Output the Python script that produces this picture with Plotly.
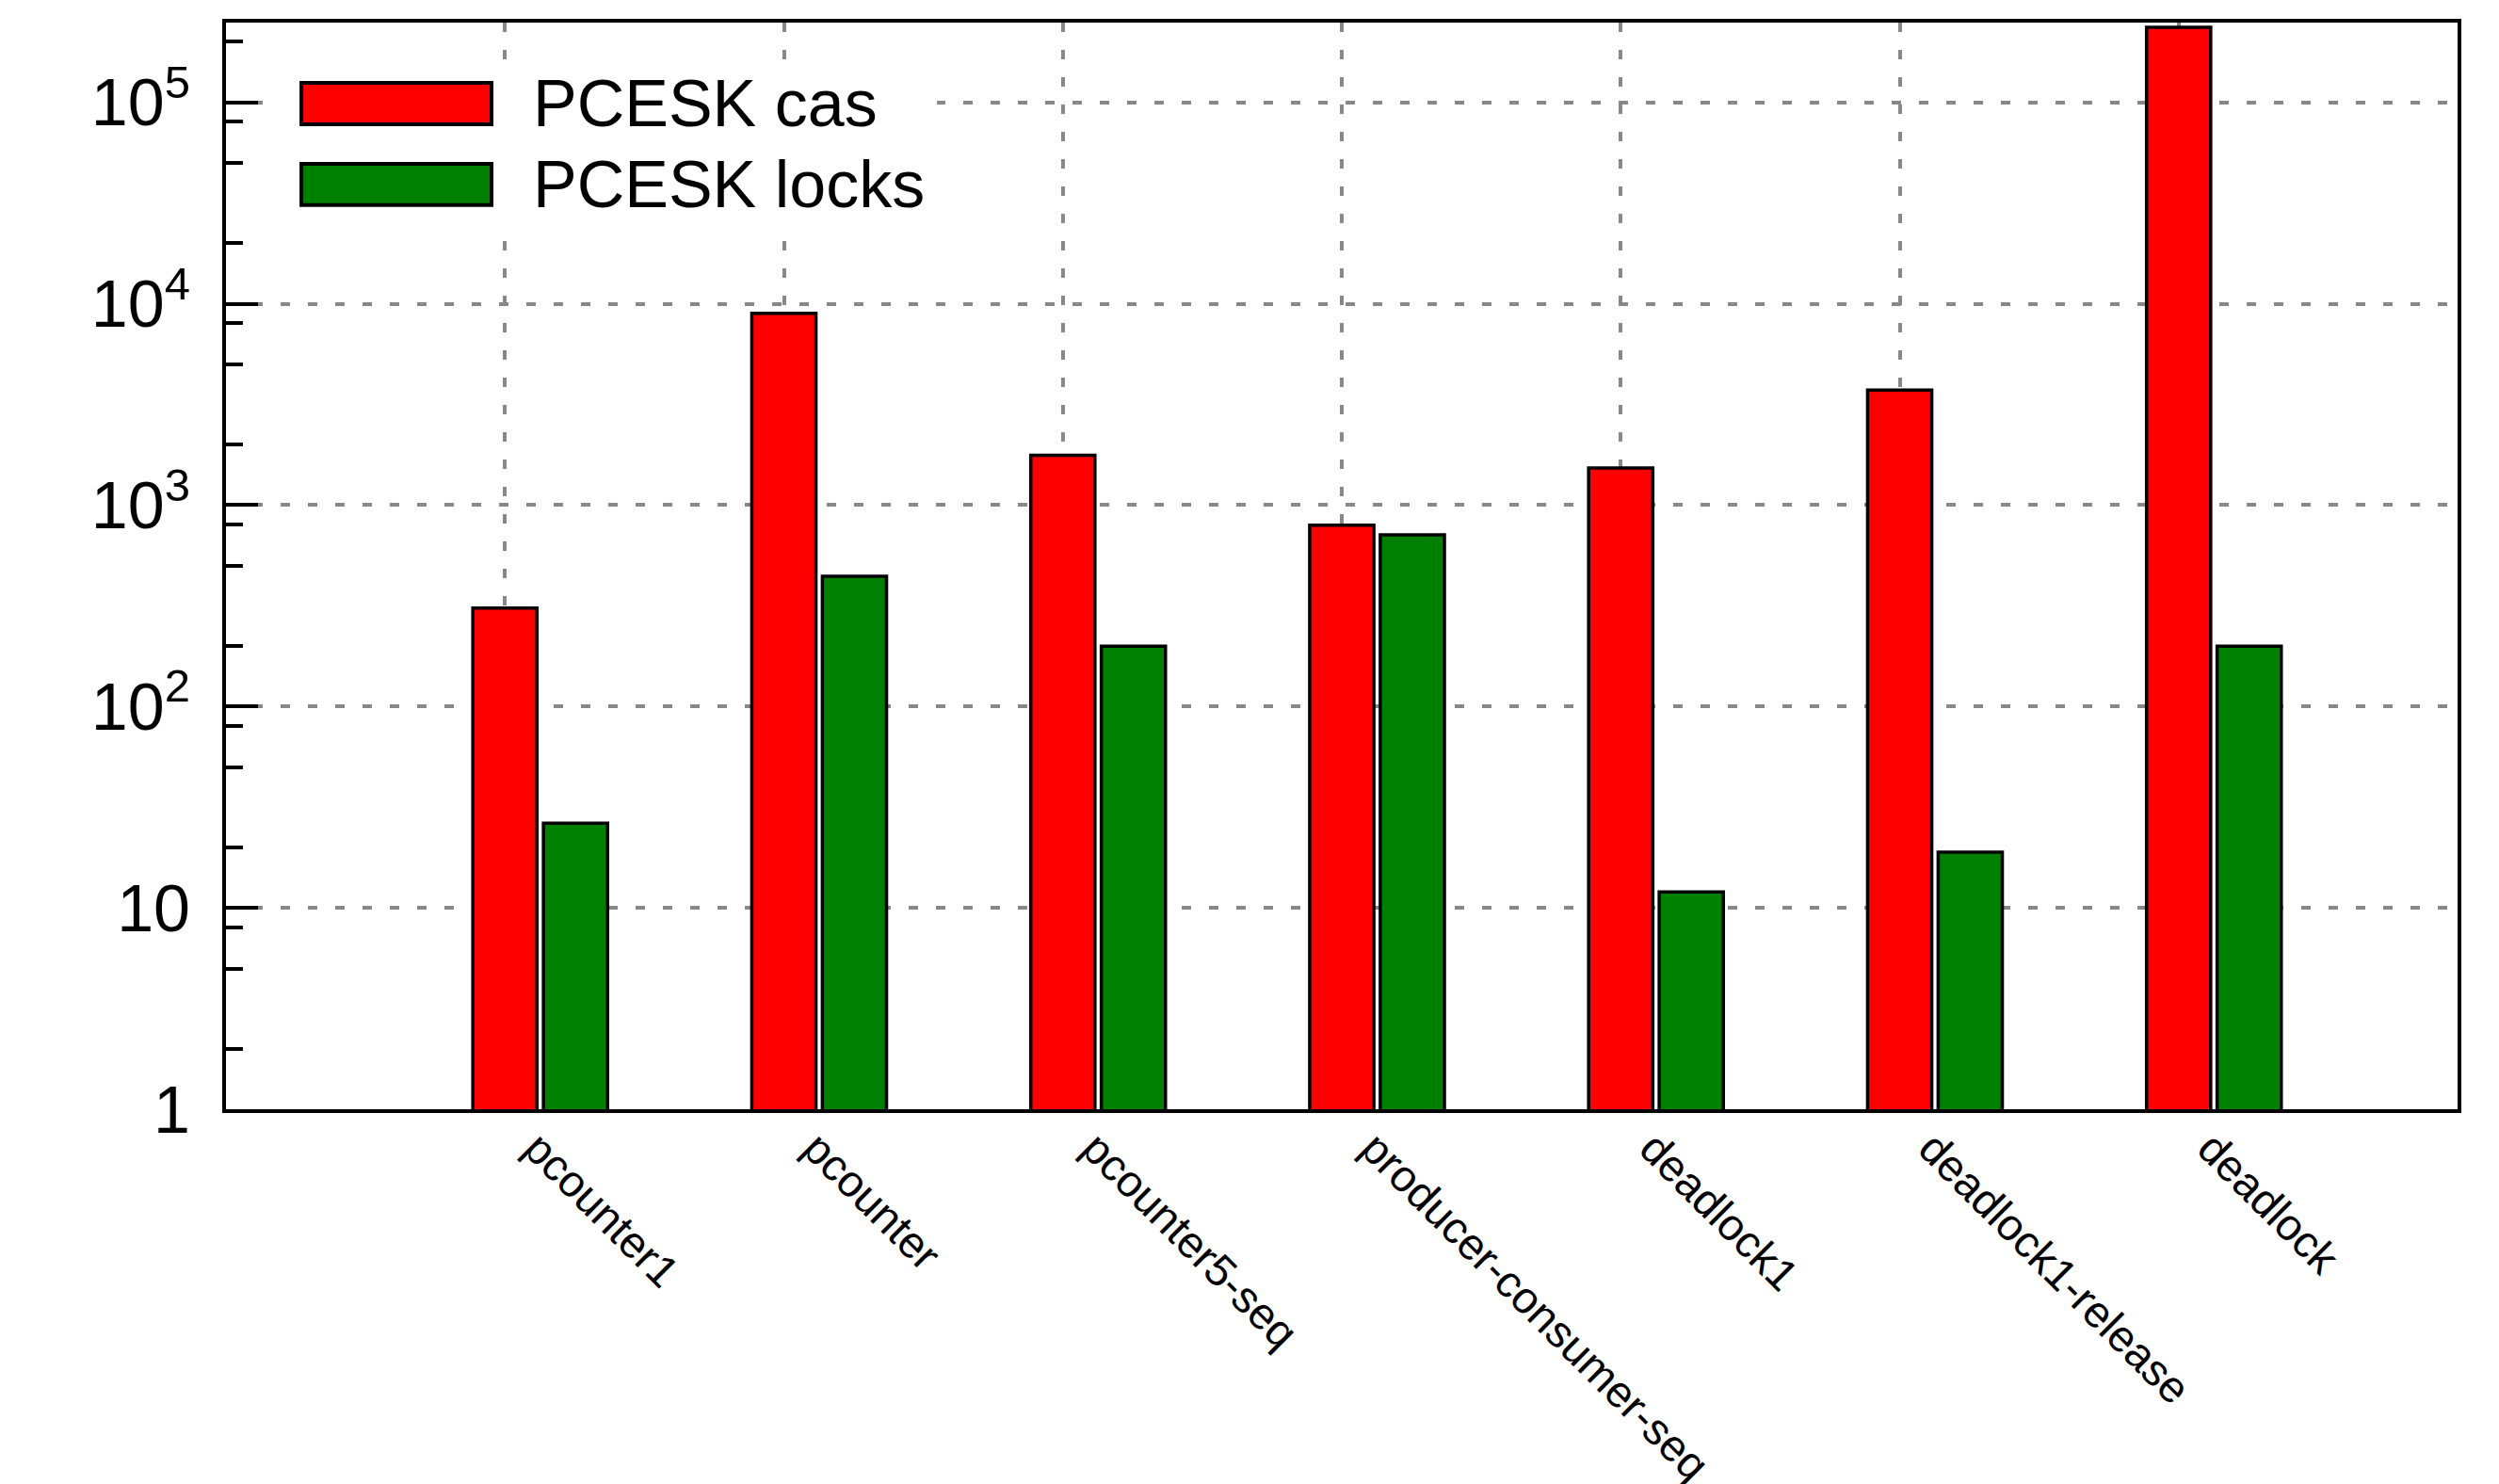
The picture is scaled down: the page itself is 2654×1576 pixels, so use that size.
import plotly.graph_objects as go

categories = ["pcounter1", "pcounter", "pcounter5-seq", "producer-consumer-seq",
              "deadlock1", "deadlock1-release", "deadlock"]
cas = [308, 8950, 1770, 794, 1530, 3730, 236000]
locks = [26.3, 443, 199, 711, 12.0, 18.9, 199]
series_names = ["PCESK cas", "PCESK locks"]
series_colors = ["#ff0000", "#008000"]
ytick_vals = [1, 10, 100, 1000, 10000, 100000]
ytick_text = ["1", "10", "10<sup>2</sup>", "10<sup>3</sup>", "10<sup>4</sup>", "10<sup>5</sup>"]
minor_vals = [m * 10 ** k for k in range(6) for m in (2, 5, 8)]

FONT = "Liberation Sans, Arial, sans-serif"
GRID = "#888888"
BAR_W = 0.23
fig = go.Figure()
for name, vals, color, off in [(series_names[0], cas, series_colors[0], -BAR_W / 2),
                               (series_names[1], locks, series_colors[1], 0.253 - BAR_W / 2)]:
    fig.add_trace(go.Bar(
        x=categories, y=vals, name=name, width=BAR_W, offset=off,
        marker=dict(color=color, line=dict(color="black", width=3.5)),
        showlegend=False,
    ))

fig.update_layout(
    width=2654, height=1576, autosize=False,
    margin=dict(l=240, r=44, t=24, b=398),
    paper_bgcolor="white", plot_bgcolor="white",
    barmode="overlay",
    font=dict(family=FONT, color="black"),
)
fig.update_xaxes(
    type="category", range=[-1, 7], automargin=False,
    showgrid=True, gridcolor=GRID, gridwidth=4, griddash="10px,19px",
    ticks="", tickangle=45, tickfont=dict(size=47, family=FONT),
    ticklabelshift=34, ticklabelstandoff=-9,
    showline=True, linecolor="black", linewidth=4, mirror=True,
)
fig.update_yaxes(
    type="log", range=[0, 5.396], automargin=False,
    tickvals=ytick_vals, ticktext=ytick_text,
    ticks="inside", ticklen=34, tickwidth=4, tickcolor="black",
    minor=dict(tickvals=minor_vals, ticks="inside", ticklen=18, tickwidth=4,
               tickcolor="black", showgrid=False),
    showgrid=True, gridcolor=GRID, gridwidth=4, griddash="10px,19px",
    zeroline=False, tickfont=dict(size=70, family=FONT), ticklabelstandoff=20,
    showline=True, linecolor="black", linewidth=4, mirror=True,
)

# legend drawn as shapes + text in paper coordinates
fig.add_shape(type="rect", xref="paper", yref="paper", x0=0.021, x1=0.3186, y0=0.8024, y1=0.962,
              fillcolor="white", line=dict(width=0), layer="above")
legend_rows = [(0.9445, 0.9064), (0.870, 0.832)]
for (y1, y0), name, color in zip(legend_rows, series_names, series_colors):
    fig.add_shape(type="rect", xref="paper", yref="paper", x0=0.0338, x1=0.119, y0=y0, y1=y1,
                  fillcolor=color, line=dict(color="black", width=4), layer="above")
    fig.add_annotation(xref="paper", yref="paper", x=0.1367, y=(y0 + y1) / 2,
                       text=name, showarrow=False, xanchor="left", yanchor="middle",
                       font=dict(size=70, family=FONT, color="black"))

fig.write_html("out.html")
